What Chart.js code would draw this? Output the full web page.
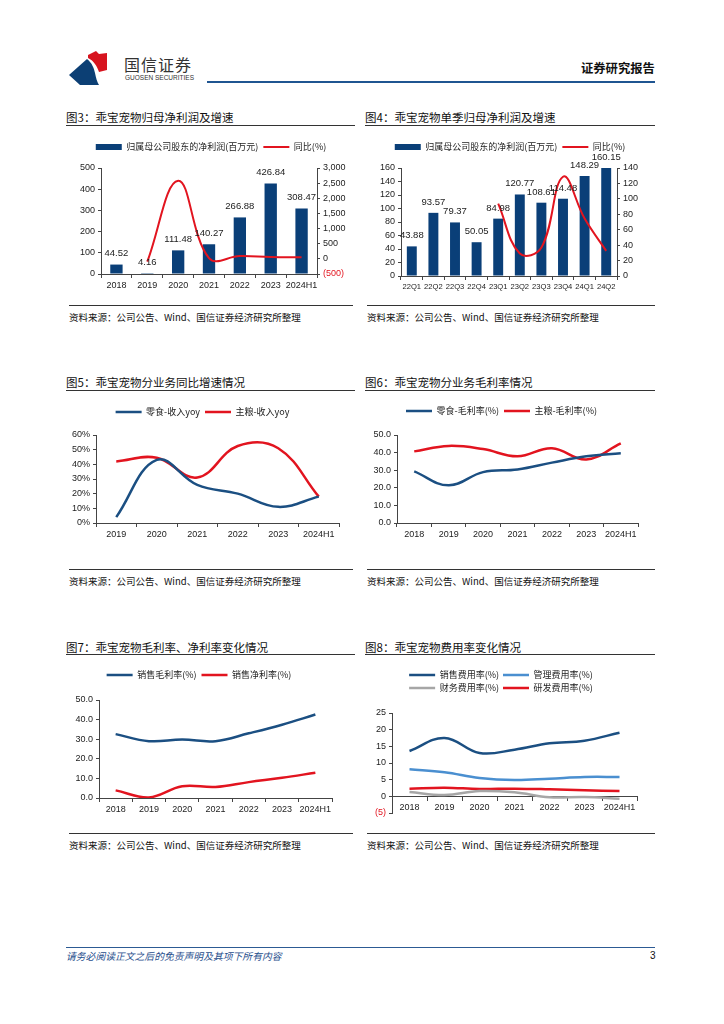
<!DOCTYPE html>
<html>
<head>
<meta charset="utf-8">
<script src="https://cdn.jsdelivr.net/npm/chart.js@4.4.1/dist/chart.umd.min.js"></script>
<style>
  body { margin: 0; background: #fff; }
  #page { position: relative; width: 724px; height: 1024px; overflow: hidden; font-family: "Noto Sans CJK SC", sans-serif; color: #111; }
  .abs { position: absolute; }
  .title { position: absolute; font-size: 11.5px; line-height: 14px; white-space: nowrap; }
  .rule { position: absolute; height: 1px; background: #333; }
  .src { position: absolute; font-size: 9.5px; line-height: 12px; white-space: nowrap; }
  canvas.box { position: absolute; }
</style>
</head>
<body>
<div id="page">
  <svg class="abs" style="left:68px;top:50px" width="42" height="36" viewBox="0 0 42 36">
    <path d="M20 5 L28 1 L31 4 L39 3 L39 20 L31 22 C29 16 26 11 20 8 Z" fill="#d7141f"/>
    <path d="M1 25 L19 9 C24 13 26 18 27 23 C28 28 29 32 31 35 L12 35 Z" fill="#0c3f74"/>
  </svg>
  <div class="abs" style="left:124px;top:55px;font-size:16px;line-height:18px;color:#333;letter-spacing:1px">国信证券</div>
  <div class="abs" style="left:125px;top:74px;font-size:6.5px;line-height:8px;color:#333;font-family:'Liberation Sans',sans-serif">GUOSEN SECURITIES</div>
  <div class="abs" style="left:581px;top:61px;font-size:12.3px;line-height:15px;font-weight:bold;color:#111">证券研究报告</div>
  <div class="abs" style="left:207px;top:81px;width:448px;height:2px;background:#1f5591"></div>

  <div class="title" style="left:66px;top:110px">图3：乖宝宠物归母净利润及增速</div>
  <div class="rule" style="left:66px;top:125px;width:289px"></div>
  <div class="title" style="left:365px;top:110px">图4：乖宝宠物单季归母净利润及增速</div>
  <div class="rule" style="left:365px;top:125px;width:290px"></div>
  <canvas class="box" id="c1" width="290" height="175" style="left:66px;top:128px"></canvas>
  <canvas class="box" id="c2" width="290" height="175" style="left:365px;top:128px"></canvas>
  <div class="rule" style="left:69px;top:305px;width:284px"></div>
  <div class="rule" style="left:367px;top:305px;width:288px"></div>
  <div class="src" style="left:69px;top:311px">资料来源：公司公告、Wind、国信证券经济研究所整理</div>
  <div class="src" style="left:367px;top:311px">资料来源：公司公告、Wind、国信证券经济研究所整理</div>

  <div class="title" style="left:66px;top:375px">图5：乖宝宠物分业务同比增速情况</div>
  <div class="rule" style="left:66px;top:390px;width:289px"></div>
  <div class="title" style="left:365px;top:375px">图6：乖宝宠物分业务毛利率情况</div>
  <div class="rule" style="left:365px;top:390px;width:290px"></div>
  <canvas class="box" id="c3" width="290" height="175" style="left:66px;top:393px"></canvas>
  <canvas class="box" id="c4" width="290" height="175" style="left:365px;top:393px"></canvas>
  <div class="rule" style="left:69px;top:569px;width:284px"></div>
  <div class="rule" style="left:367px;top:569px;width:288px"></div>
  <div class="src" style="left:69px;top:575px">资料来源：公司公告、Wind、国信证券经济研究所整理</div>
  <div class="src" style="left:367px;top:575px">资料来源：公司公告、Wind、国信证券经济研究所整理</div>

  <div class="title" style="left:66px;top:640px">图7：乖宝宠物毛利率、净利率变化情况</div>
  <div class="rule" style="left:66px;top:654px;width:289px"></div>
  <div class="title" style="left:365px;top:640px">图8：乖宝宠物费用率变化情况</div>
  <div class="rule" style="left:365px;top:654px;width:290px"></div>
  <canvas class="box" id="c5" width="290" height="175" style="left:66px;top:658px"></canvas>
  <canvas class="box" id="c6" width="290" height="175" style="left:365px;top:658px"></canvas>
  <div class="rule" style="left:69px;top:833px;width:284px"></div>
  <div class="rule" style="left:367px;top:833px;width:288px"></div>
  <div class="src" style="left:69px;top:839px">资料来源：公司公告、Wind、国信证券经济研究所整理</div>
  <div class="src" style="left:367px;top:839px">资料来源：公司公告、Wind、国信证券经济研究所整理</div>

  <div class="abs" style="left:66px;top:947px;width:589px;height:1px;background:#2c5a93"></div>
  <div class="abs" style="left:66px;top:950px;font-size:9.8px;line-height:12px;font-style:italic;color:#1f4e8c">请务必阅读正文之后的免责声明及其项下所有内容</div>
  <div class="abs" style="left:650px;top:950px;font-size:10px;line-height:12px;color:#111;font-family:'Liberation Sans',sans-serif">3</div>
</div>

<script>
const years = ["2018", "2019", "2020", "2021", "2022", "2023", "2024H1"];
const netProfit = [44.52, 4.16, 111.48, 140.27, 266.88, 426.84, 308.47];
const netProfitYoy = [null, -90.7, 2579.8, 25.8, 90.3, 59.9, 50.9];

const quarters = ["22Q1", "22Q2", "22Q3", "22Q4", "23Q1", "23Q2", "23Q3", "23Q4", "24Q1", "24Q2"];
const quarterProfit = [43.88, 93.57, 79.37, 50.05, 84.98, 120.77, 108.61, 114.48, 148.29, 160.15];
const quarterYoy = [null, null, null, null, 93.7, 29.1, 36.8, 128.7, 74.5, 32.6];

const segYears = ["2019", "2020", "2021", "2022", "2023", "2024H1"];
const snackRevYoy = [4, 43, 26, 20, 11, 18];
const stapleRevYoy = [42, 44.5, 31, 52.5, 51, 18];

const snackMargin = [29.3, 21.4, 28.9, 30.4, 34.3, 37.9, 39.6];
const stapleMargin = [40.7, 43.8, 42.0, 37.9, 42.5, 36.1, 45.2];

const grossMargin = [32.6, 29.0, 29.8, 29.0, 33.0, 37.4, 42.6];
const netMargin = [3.9, 0.3, 6.0, 5.6, 8.1, 10.3, 12.9];

const sellingRate = [13.6, 17.5, 13.0, 14.0, 15.9, 16.7, 19.1];
const adminRate = [8.1, 7.2, 5.5, 4.9, 5.3, 5.8, 5.8];
const financeRate = [1.3, 0.4, 1.6, 1.2, -0.3, -0.2, -0.7];
const rdRate = [2.3, 2.6, 2.2, 2.3, 2.1, 1.8, 1.6];

const NAVY = "#0a3f78";
const RED = "#e2141f";
const BLUE = "#1b4f82";
const LIGHT_BLUE = "#4a8fd0";
const GREY = "#a6a6a6";
const CJK = "'Noto Sans CJK SC', sans-serif";
const NUM = "'Liberation Sans', Arial, sans-serif";

Chart.defaults.animation = false;
Chart.defaults.color = "#222";

// push the plot down below the legend
function legendGap(extra) {
  return {
    id: "legendGap",
    beforeLayout(chart) {
      const lg = chart.legend;
      if (!lg || lg._gapPatched) return;
      const fit = lg.fit;
      lg.fit = function () { fit.call(this); this.height += extra; };
      lg._gapPatched = true;
    },
  };
}

const barLabels = {
  id: "barLabels",
  afterDatasetsDraw(chart) {
    const ctx = chart.ctx;
    chart.data.datasets.forEach((ds, i) => {
      if (ds.type !== "bar") return;
      chart.getDatasetMeta(i).data.forEach((bar, j) => {
        ctx.save();
        ctx.font = "9.5px " + NUM;
        ctx.fillStyle = "#222";
        ctx.textAlign = "center";
        ctx.textBaseline = "bottom";
        ctx.fillText(ds.data[j].toFixed(2), bar.x, bar.y - 6);
        ctx.restore();
      });
    });
  },
};

function legendOpts(extra) {
  return {
    position: "top",
    labels: {
      usePointStyle: true,
      pointStyleWidth: 26,
      boxHeight: 6,
      padding: 5,
      font: { size: 9, family: CJK },
      color: "#222",
      sort: (a, b) => a.datasetIndex - b.datasetIndex,
    },
    ...extra,
  };
}

function xAxis(height, fontSize) {
  return {
    offset: true,
    grid: { offset: true, drawOnChartArea: false, drawTicks: true, tickLength: 4, color: "#444" },
    border: { display: true, color: "#444" },
    ticks: { font: { size: fontSize || 9, family: NUM }, color: "#222", padding: 2, maxRotation: 0, autoSkip: false },
    afterFit: (s) => { if (height) s.height = height; },
  };
}

function yAxis(width, min, max, step, fmt, position) {
  return {
    position: position || "left",
    min, max,
    grid: { drawOnChartArea: false, drawTicks: true, tickLength: 3, color: "#444" },
    border: { display: true, color: "#444" },
    ticks: {
      stepSize: step,
      autoSkip: false,
      font: { size: 9, family: NUM },
      color: (c) => (c.tick.value < 0 ? RED : "#222"),
      padding: 3,
      callback: fmt,
    },
    afterFit: (s) => { s.width = width; },
  };
}

const thousands = (v) => (v < 0 ? "(" + Math.abs(v).toLocaleString("en-US") + ")" : v.toLocaleString("en-US"));

function lineSet(label, data, color, axis) {
  return {
    type: "line", label, data, yAxisID: axis || "y",
    borderColor: color, backgroundColor: color, borderWidth: 2.5,
    pointRadius: 0, tension: 0.4, pointStyle: "line", order: 0,
  };
}

new Chart(document.getElementById("c1"), {
  type: "bar",
  data: {
    labels: years,
    datasets: [
      { type: "bar", label: "归属母公司股东的净利润(百万元)", data: netProfit, backgroundColor: NAVY, yAxisID: "y", order: 1, barPercentage: 0.4, categoryPercentage: 1, pointStyle: "rect", borderWidth: 0 },
      { ...lineSet("同比(%)", netProfitYoy, RED, "y1"), borderWidth: 2 },
    ],
  },
  options: {
    responsive: false,
    layout: { padding: { top: 9.5, bottom: 9, left: 0, right: 0 } },
    plugins: { legend: legendOpts(), tooltip: { enabled: false } },
    scales: {
      x: xAxis(20),
      y: yAxis(35, 0, 500, 100),
      y1: yAxis(39, -500, 3000, 500, thousands, "right"),
    },
  },
  plugins: [legendGap(6.5), barLabels],
});

new Chart(document.getElementById("c2"), {
  type: "bar",
  data: {
    labels: quarters,
    datasets: [
      { type: "bar", label: "归属母公司股东的净利润(百万元)", data: quarterProfit, backgroundColor: NAVY, yAxisID: "y", order: 1, barPercentage: 0.46, categoryPercentage: 1, pointStyle: "rect", borderWidth: 0 },
      { ...lineSet("同比(%)", quarterYoy, RED, "y1"), borderWidth: 2 },
    ],
  },
  options: {
    responsive: false,
    layout: { padding: { top: 9.5, bottom: 7, left: 0, right: 0 } },
    plugins: { legend: legendOpts(), tooltip: { enabled: false } },
    scales: {
      x: xAxis(20, 7.6),
      y: yAxis(36, 0, 160, 20),
      y1: yAxis(38, 0, 140, 20, undefined, "right"),
    },
  },
  plugins: [legendGap(6.5), barLabels],
});

new Chart(document.getElementById("c3"), {
  type: "line",
  data: {
    labels: segYears,
    datasets: [
      lineSet("零食-收入yoy", snackRevYoy, BLUE),
      lineSet("主粮-收入yoy", stapleRevYoy, RED),
    ],
  },
  options: {
    responsive: false,
    layout: { padding: { top: 9.5, bottom: 25, left: 0, right: 17 } },
    plugins: { legend: legendOpts(), tooltip: { enabled: false } },
    scales: {
      x: xAxis(20),
      y: yAxis(30, 0, 60, 10, (v) => v + "%"),
    },
  },
  plugins: [legendGap(8.5)],
});

new Chart(document.getElementById("c4"), {
  type: "line",
  data: {
    labels: years,
    datasets: [
      lineSet("零食-毛利率(%)", snackMargin, BLUE),
      lineSet("主粮-毛利率(%)", stapleMargin, RED),
    ],
  },
  options: {
    responsive: false,
    layout: { padding: { top: 8.5, bottom: 25, left: 0, right: 17 } },
    plugins: { legend: legendOpts(), tooltip: { enabled: false } },
    scales: {
      x: xAxis(20),
      y: yAxis(32, 0, 50, 10, (v) => v.toFixed(1)),
    },
  },
  plugins: [legendGap(9.5)],
});

new Chart(document.getElementById("c5"), {
  type: "line",
  data: {
    labels: years,
    datasets: [
      lineSet("销售毛利率(%)", grossMargin, BLUE),
      lineSet("销售净利率(%)", netMargin, RED),
    ],
  },
  options: {
    responsive: false,
    layout: { padding: { top: 7.5, bottom: 15, left: 0, right: 24 } },
    plugins: { legend: legendOpts(), tooltip: { enabled: false } },
    scales: {
      x: xAxis(20),
      y: yAxis(33, 0, 50, 10, (v) => v.toFixed(1)),
    },
  },
  plugins: [legendGap(10.5)],
});

new Chart(document.getElementById("c6"), {
  type: "line",
  data: {
    labels: years,
    datasets: [
      lineSet("销售费用率(%)", sellingRate, BLUE),
      lineSet("管理费用率(%)", adminRate, LIGHT_BLUE),
      lineSet("财务费用率(%)", financeRate, GREY),
      lineSet("研发费用率(%)", rdRate, RED),
    ],
  },
  options: {
    responsive: false,
    layout: { padding: { top: 8.5, bottom: 20, left: 0, right: 18 } },
    plugins: {
      legend: legendOpts({ maxWidth: 230, labels: { ...legendOpts().labels, padding: 4 } }),
      tooltip: { enabled: false },
    },
    scales: {
      x: { ...xAxis(), position: { y: 0 } },
      y: yAxis(27, -5, 25, 5, (v) => (v < 0 ? "(" + Math.abs(v) + ")" : String(v))),
    },
  },
  plugins: [legendGap(10.5)],
});
</script>
</body>
</html>
